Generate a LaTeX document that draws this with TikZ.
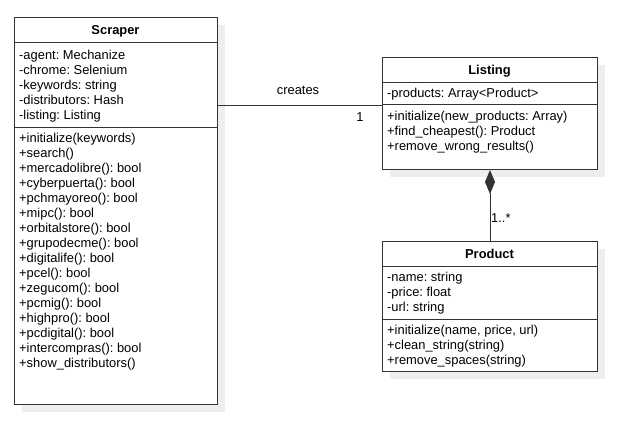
\documentclass[tikz,border=0pt]{standalone}
\usepackage{fontspec}
\setmainfont{Liberation Sans}
\usetikzlibrary{arrows.meta, positioning, calc, shadows}
\definecolor{colLine}{RGB}{51, 51, 51}
\definecolor{colShadow}{RGB}{238, 238, 238}
\frenchspacing

\begin{document}
\begin{tikzpicture}[x=1pt, y=-1pt, every node/.style={font=\fontsize{12.9}{15}\selectfont},
    classbox/.style={draw=colLine, line width=1pt, fill=white, anchor=north west, inner sep=0pt,
        drop shadow={shadow xshift=7pt, shadow yshift=-7pt, fill=colShadow, opacity=1}},
    member/.style={anchor=base west, inner sep=0pt},
    title/.style={anchor=base, inner sep=0pt, font=\fontsize{12.9}{15}\selectfont\bfseries}]
    \useasboundingbox (0,0) rectangle (624,434);

    % Scraper
    \node[classbox, minimum width=203pt, minimum height=387pt] (scraper) at (14,17) {};
    \node[title] (scraperT) at (115.5,34) {Scraper};
    \draw[colLine, line width=1pt] (14,42) -- (217,42);
    \draw[colLine, line width=1pt] (14,127) -- (217,127);
    \foreach \txt [count=\i] in {-agent: Mechanize, -chrome: Selenium, -keywords: string,
        -distributors: Hash, -listing: Listing}
        \node[member] (sa\i) at (19, 44+15*\i) {\txt};
    \foreach \txt [count=\i] in {+initialize(keywords), +search(), +mercadolibre(): bool,
        +cyberpuerta(): bool, +pchmayoreo(): bool, +mipc(): bool, +orbitalstore(): bool,
        +grupodecme(): bool, +digitalife(): bool, +pcel(): bool, +zegucom(): bool,
        +pcmig(): bool, +highpro(): bool, +pcdigital(): bool, +intercompras(): bool,
        +show\_distributors()}
        \node[member] (sm\i) at (19, 127+15*\i) {\txt};

    % Listing
    \node[classbox, minimum width=215pt, minimum height=112pt] (listing) at (382,57) {};
    \node[title] (listingT) at (489.5,74) {Listing};
    \draw[colLine, line width=1pt] (382,82) -- (597,82);
    \draw[colLine, line width=1pt] (382,104) -- (597,104);
    \node[member] (la1) at (387,97) {-products: Array<Product>};
    \foreach \txt [count=\i] in {+initialize(new\_products: Array), +find\_cheapest(): Product,
        +remove\_wrong\_results()}
        \node[member] (lm\i) at (387, 105+15*\i) {\txt};

    % Product
    \node[classbox, minimum width=215pt, minimum height=130pt] (product) at (382,241) {};
    \node[title] (productT) at (489.5,258) {Product};
    \draw[colLine, line width=1pt] (382,266) -- (597,266);
    \draw[colLine, line width=1pt] (382,319) -- (597,319);
    \foreach \txt [count=\i] in {-name: string, -price: float, -url: string}
        \node[member] (pa\i) at (387, 266+15*\i) {\txt};
    \foreach \txt [count=\i] in {{+initialize(name, price, url)}, +clean\_string(string),
        +remove\_spaces(string)}
        \node[member] (pm\i) at (387, 319+15*\i) {\txt};

    % Relaciones
    \path (listing.west) ++(0,-8) coordinate (createsEnd);
    \draw[colLine, line width=1pt] (scraper.east |- createsEnd) -- (createsEnd);
    \node[anchor=base, inner sep=0pt] (createsL) at (298,94) {creates};
    \node[anchor=base, inner sep=0pt] (createsM) at (360,121) {1};

    \draw[colLine, line width=1pt, {Diamond[length=24pt, width=10pt]}-] (listing.south) -- (product.north);
    \node[member] (compM) at (491,222) {1..*};
\end{tikzpicture}
\end{document}
